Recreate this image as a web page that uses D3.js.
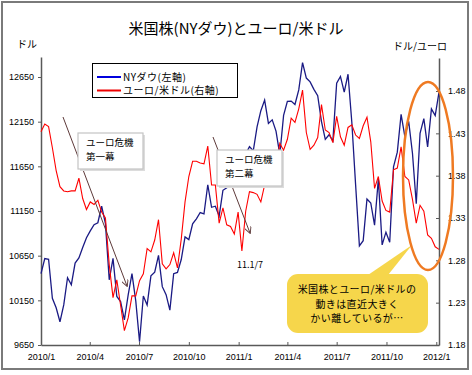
<!DOCTYPE html>
<html>
<head>
<meta charset="utf-8">
<script src="https://d3js.org/d3.v7.min.js"></script>
<style>
  body { margin: 0; background: #fff; }
  svg { display: block; }
  text { font-family: "Noto Sans CJK JP", "Liberation Sans", sans-serif; fill: #000; }
  .num text, text.num { font-family: "Liberation Sans", Arial, sans-serif; font-size: 9px; }
</style>
</head>
<body>
<div id="chart"></div>
<script>
// weekly (Friday) closes
const firstWeek = "2010-01-01";
const lastWeek = "2012-01-06";

const dowValues = [
  10450, 10618, 10610, 10173, 10067, 9910, 10099, 10403, 10325, 10567,
  10625, 10742, 10851, 10927, 10997, 11019, 11205, 11009, 10380, 10620,
  10193, 10137, 9931, 10212, 10450, 10144, 9686, 10198, 10098, 10424,
  10466, 10654, 10303, 10213, 10040, 10448, 10462, 10607, 10860, 10830,
  11006, 11062, 11133, 11118, 11444, 11192, 11204, 11092, 11382, 11410,
  11491, 11573, 11578,
  11675, 11787, 11871, 11824, 12092, 12273, 12391, 12130, 12170, 12044,
  11780, 12221, 12377, 12380, 12342, 12505, 12811, 12638, 12596, 12512,
  12441, 12151, 11952, 12004, 11934, 12582, 12657, 12480, 12681, 12143,
  11444, 10760, 10818, 11285, 11240, 10992, 11509, 10771, 10913, 10800,
  11644, 11809, 12231, 11983, 12153, 11796, 11231, 12019, 12184, 11867,
  12294, 12218, 12480
];

const eurValues = [
  1.432, 1.441, 1.438, 1.413, 1.386, 1.367, 1.362, 1.361, 1.362, 1.362,
  1.377, 1.353, 1.340, 1.349, 1.346, 1.351, 1.337, 1.330, 1.275, 1.236,
  1.257, 1.227, 1.197, 1.212, 1.238, 1.238, 1.256, 1.264, 1.294, 1.290,
  1.304, 1.328, 1.276, 1.270, 1.275, 1.289, 1.271, 1.305, 1.349, 1.379,
  1.397, 1.397, 1.395, 1.394, 1.415, 1.369, 1.369, 1.324, 1.342, 1.322,
  1.320, 1.311, 1.337,
  1.291, 1.338, 1.361, 1.360, 1.358, 1.349, 1.369, 1.375, 1.399, 1.390,
  1.418, 1.410, 1.423, 1.448, 1.443, 1.459, 1.481, 1.431, 1.411, 1.416,
  1.425, 1.464, 1.434, 1.431, 1.419, 1.450, 1.426, 1.416, 1.437, 1.440,
  1.428, 1.424, 1.439, 1.449, 1.420, 1.365, 1.379, 1.350, 1.339, 1.337,
  1.387, 1.389, 1.414, 1.379, 1.375, 1.352, 1.324, 1.345, 1.338, 1.310,
  1.306, 1.296, 1.293
];

const leftTicks = [9650, 10150, 10650, 11150, 11650, 12150, 12650];
const rightTicks = [1.18, 1.23, 1.28, 1.33, 1.38, 1.43, 1.48];

const titleText = "米国株(NYダウ)とユーロ/米ドル";
const legendLabels = ["NYダウ(左軸)", "ユーロ/米ドル(右軸)"];
const note1 = ["ユーロ危機", "第一幕"];
const note2 = ["ユーロ危機", "第二幕"];
const note2Date = "11.1/7";
const calloutLines = ["米国株とユーロ/米ドルの", "動きは直近大きく", "かい離しているが…"];

const width = 472, height = 375;
const parse = d3.timeParse("%Y-%m-%d");
const weeks = d3.timeFriday.range(parse(firstWeek), d3.timeDay.offset(parse(lastWeek), 1));

const svg = d3.select("#chart").append("svg")
    .attr("width", width)
    .attr("height", height);

// outer frame
svg.append("rect")
    .attr("x", 2).attr("y", 2)
    .attr("width", 466).attr("height", 367)
    .attr("fill", "#fff")
    .attr("stroke", "#7a7a7a")
    .attr("stroke-width", 2);

svg.append("text")
    .attr("x", 236).attr("y", 34)
    .attr("text-anchor", "middle")
    .style("font-size", "15px")
    .text(titleText);

svg.append("text").attr("x", 17).attr("y", 48).style("font-size", "10px").text("ドル");
svg.append("text").attr("x", 393).attr("y", 50).style("font-size", "10px").text("ドル/ユーロ");

// scales
var x = d3.scaleTime()
    .domain([parse("2010-01-01"), parse("2012-01-06")])
    .range([41, 439]);
var yL = d3.scaleLinear().domain([9650, 12874]).range([345, 57]);
var yR = d3.scaleLinear().domain([1.18, 1.519]).range([345, 58]);

// axes
var axisColor = "#595959";
var gL = svg.append("g").attr("class", "num")
    .attr("transform", "translate(41,0)")
    .call(d3.axisLeft(yL).tickValues(leftTicks).tickFormat(d3.format("d"))
        .tickSizeInner(3).tickSizeOuter(0).tickPadding(4));
var gR = svg.append("g").attr("class", "num")
    .attr("transform", "translate(439,0)")
    .call(d3.axisRight(yR).tickValues(rightTicks).tickFormat(d3.format(".2f"))
        .tickSizeInner(-3).tickSizeOuter(0).tickPadding(9));
var gB = svg.append("g").attr("class", "num")
    .attr("transform", "translate(0,345)")
    .call(d3.axisBottom(x).tickValues(d3.timeMonth.every(3).range(parse("2010-01-01"), parse("2012-01-02")))
        .tickFormat(d3.timeFormat("%Y/%-m"))
        .tickSizeInner(-3).tickSizeOuter(0).tickPadding(9));

[gL, gR, gB].forEach(g => {
    g.select(".domain").attr("stroke", axisColor).attr("stroke-width", 1.5);
    g.selectAll(".tick line").attr("stroke", axisColor).attr("stroke-width", 1);
    g.selectAll("text").attr("fill", "#000");
});

// series
var dowLine = d3.line().x((d, i) => x(weeks[i])).y(d => yL(d));
var eurLine = d3.line().x((d, i) => x(weeks[i])).y(d => yR(d));

svg.append("path")
    .datum(dowValues)
    .attr("fill", "none")
    .attr("stroke", "#1a1a84")
    .attr("stroke-width", 1.3)
    .attr("d", dowLine);

svg.append("path")
    .datum(eurValues)
    .attr("fill", "none")
    .attr("stroke", "#ff0000")
    .attr("stroke-width", 1.1)
    .attr("d", eurLine);

// legend
var legend = svg.append("g");
legend.append("rect")
    .attr("x", 92.5).attr("y", 63.5).attr("width", 145).attr("height", 34)
    .attr("fill", "#fff").attr("stroke", "#000").attr("stroke-width", 1);
[["#0000dd", 77], ["#ee0000", 90.5]].forEach((c, i) => {
    legend.append("line")
        .attr("x1", 97).attr("x2", 121).attr("y1", c[1]).attr("y2", c[1])
        .attr("stroke", c[0]).attr("stroke-width", 2);
    legend.append("text")
        .attr("x", 123).attr("y", c[1] + 3.8)
        .style("font-size", "10px")
        .style("letter-spacing", "0.5px")
        .text(legendLabels[i]);
});

// arrows
svg.append("defs").append("marker")
    .attr("id", "arr")
    .attr("viewBox", "0 0 10 10")
    .attr("refX", 9).attr("refY", 5)
    .attr("markerWidth", 7).attr("markerHeight", 7)
    .attr("orient", "auto")
    .append("path")
    .attr("d", "M0,0 L10,5 L0,10")
    .attr("fill", "none")
    .attr("stroke", "#5e3a3a")
    .attr("stroke-width", 1.3);

[[63, 117, 127, 286], [213, 137, 250, 233]].forEach(a => {
    svg.append("line")
        .attr("x1", a[0]).attr("y1", a[1]).attr("x2", a[2]).attr("y2", a[3])
        .attr("stroke", "#5e3a3a").attr("stroke-width", 1)
        .attr("marker-end", "url(#arr)");
});

// note boxes
function noteBox(bx, by, lines) {
    var g = svg.append("g");
    g.append("rect")
        .attr("x", bx + 2).attr("y", by + 2).attr("width", 65).attr("height", 36)
        .attr("fill", "#dcdcdc");
    g.append("rect")
        .attr("x", bx).attr("y", by).attr("width", 65).attr("height", 36)
        .attr("fill", "#fff").attr("stroke", "#c4c4c4").attr("stroke-width", 1.2);
    lines.forEach((s, i) => {
        g.append("text")
            .attr("x", bx + 8).attr("y", by + 13 + i * 13.5)
            .style("font-size", "9.5px")
            .text(s);
    });
}
noteBox(78, 133, note1);
noteBox(217, 150, note2);

svg.append("text")
    .attr("x", 237).attr("y", 268)
    .style("font-size", "9px")
    .text(note2Date);

// callout
var co = svg.append("g");
co.append("rect")
    .attr("x", 287).attr("y", 274).attr("width", 141).attr("height", 59)
    .attr("rx", 11).attr("ry", 11)
    .attr("fill", "#f6d64b");
co.append("path")
    .attr("d", "M368,275 L412,245 L388,275 Z")
    .attr("fill", "#f6d64b");
calloutLines.forEach((t, i) => {
    co.append("text")
        .attr("x", 357).attr("y", 293 + i * 14.5)
        .attr("text-anchor", "middle")
        .style("font-size", "10px")
        .style("letter-spacing", "0.4px")
        .text(t);
});

// highlight ellipse
svg.append("ellipse")
    .attr("cx", 428).attr("cy", 176)
    .attr("rx", 25).attr("ry", 94)
    .attr("fill", "none")
    .attr("stroke", "#ef7a22")
    .attr("stroke-width", 2.5);
</script>
</body>
</html>
